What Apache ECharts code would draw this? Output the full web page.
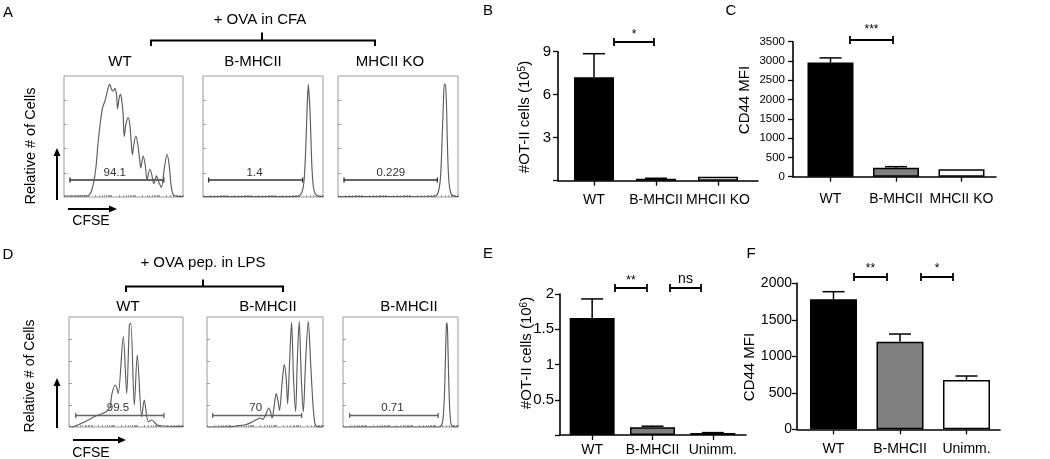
<!DOCTYPE html>
<html><head><meta charset="utf-8">
<script src="https://cdn.jsdelivr.net/npm/echarts@6/dist/echarts.min.js"></script>
<style>html,body{margin:0;padding:0;background:#fff}#c{width:1050px;height:459px}</style>
</head><body><div id="c"></div>
<script>
// ================= DATA =================
// Flow histograms (x: CFSE position 0-100 across plot, y: relative count 0-100)
const histA_WT = [[0,0.8],[19,0.8],[21.8,2.2],[24.6,10.5],[26.8,24.2],[28.8,46.3],[30.7,62.8],[32.4,73.8],[34.4,79.3],[35.8,84.8],[37.2,90.4],[38.5,93.1],[39.9,89],[41.3,87.6],[42.7,89.8],[44.1,84.8],[45,73],[46.4,82.1],[47.5,84.8],[48.6,79.3],[49.7,68.3],[50.6,50],[52,60],[53.9,65.6],[55.3,60],[56.4,46.3],[57.5,35],[58.7,43.5],[60.3,50.4],[62,43.5],[63.7,29.8],[64.5,24],[66.5,33.9],[68.2,27],[69.8,14],[72.1,22.9],[73.7,18.7],[75.4,11],[77.7,17.4],[79.3,13.2],[81.8,8],[84.4,24.2],[86.6,35.3],[88.3,27],[89.9,10.5],[91.6,2.2],[94.4,0.6],[100,0.3]];
const histA_BMHCII = [[0,0.3],[77.8,0.3],[80.6,1.1],[82.8,5],[84.2,13.2],[85.3,32.5],[86.1,54.5],[86.9,76.6],[87.8,93.1],[88.3,93.1],[89.2,71.1],[90,46.3],[90.8,24.2],[91.9,9.1],[93.6,2.2],[96.4,0.6],[100,0.3]];
const histA_KO = [[0,0.3],[80,0.6],[82.8,2.2],[84.4,7.7],[85.6,18.7],[86.7,46.3],[87.8,76.6],[88.6,93.1],[89.4,93.1],[90.3,79.3],[91.1,46.3],[91.9,21.5],[93,7.7],[94.4,2.2],[97.2,0.6],[100,0.3]];
const histD_WT = [[0,0],[1.5,0],[10.2,3],[19,7.6],[24.9,10.6],[32.2,13.6],[36,18.2],[37.4,28.8],[40.4,38.2],[41.8,36],[43.2,30.6],[47.6,82.1],[50.6,30.6],[53,93],[54.2,94.3],[57.3,20],[59.9,65.5],[63.8,9.4],[66,24.5],[69.6,4.8],[72.5,6.4],[77.2,1.8],[83.3,0.9],[100,0.5]];
const histD_BMHCII = [[0,0],[18.7,0],[24.5,0.9],[33.1,2.1],[38.9,4.5],[43.2,7],[46.1,8.2],[48.1,7],[50.4,10.6],[53.3,17.3],[54.8,13.6],[56.2,8.2],[57.6,16.7],[59.7,30.3],[61.4,22.7],[62.5,15.2],[64.8,40.9],[66.6,56.7],[68.3,43.9],[69.5,21.2],[71.2,59.1],[72.9,95.5],[74.6,43.9],[76.4,14.2],[77.8,59.1],[79.5,96.1],[81.3,43.9],[83,13.6],[85,59.1],[87.3,96.1],[89.3,59.1],[91.4,19.7],[93.1,3],[95.1,0.3],[100,0]];
const histD_Ctrl = [[0,0],[83.6,0],[85.6,1.5],[87,7.6],[88.2,28.8],[89,59.1],[89.9,92.4],[90.5,94.8],[91.1,80.3],[91.9,43.9],[92.8,16.7],[93.9,3],[95.7,0.3],[100,0]];

// Gates: [start, end, level, label position], labels
const gatesA = [[5,83.8,14,42.7],[4.7,83,14,43],[5,82.8,14,44]];
const gateLabelsA = ['94.1','1.4','0.229'];
const gatesD = [[5.9,83.3,10.5,43],[4.9,81.6,10.5,42],[5.8,82.7,10.5,43]];
const gateLabelsD = ['99.5','70','0.71'];

const histTitlesA = ['WT','B-MHCII','MHCII KO'];
const histTitlesD = ['WT','B-MHCII','B-MHCII'];

// Bar panels
const catsBC = ['WT','B-MHCII','MHCII KO'];
const catsEF = ['WT','B-MHCII','Unimm.'];
const otiiB = [7.21, 0.14, 0.28];
const otiiBErr = [1.65, 0.03, 0];
const cd44C = [2960, 232, 192];
const cd44CErr = [120, 28, 0];
const otiiE = [1.66, 0.11, 0.03];
const otiiEErr = [0.27, 0.015, 0.004];
const cd44F = [1780, 1200, 675];
const cd44FErr = [105, 105, 55];
const ticksB = [0, 3, 6, 9];
const ticksC = [0, 500, 1000, 1500, 2000, 2500, 3000, 3500];
const ticksE = [0, 0.5, 1, 1.5, 2];
const ticksF = [0, 500, 1000, 1500, 2000];

// ================= CHART =================
const FONT = '"Liberation Sans", Arial, Helvetica, sans-serif';
const chart = echarts.init(document.getElementById('c'));
const barFills = ['#000000', '#808080', '#ffffff'];

// log-style tick decoration for histogram x-axes
const logTicks = [];
for (let d = 0; d < 5; d++) for (let k = 1; k < 10; k++) logTicks.push((d + Math.log10(k)) * 20);
logTicks.push(100);

const histGrids = [
  {left:64, top:76, width:119, height:121},
  {left:203, top:76, width:120, height:121},
  {left:338, top:76, width:120, height:121},
  {left:69, top:317, width:114, height:110},
  {left:207, top:317, width:116, height:110},
  {left:343, top:317, width:115, height:110}
];
const barGrids = [
  {left:558, top:51.7, width:200, height:129},
  {left:793, top:41.7, width:203, height:135},
  {left:560, top:294, width:186, height:141},
  {left:797, top:283.3, width:203, height:146}
];

const grid = [], xAxis = [], yAxis = [], series = [];
histGrids.forEach((g, i) => {
  grid.push(Object.assign({show:true, borderColor:'#9a9a9a', borderWidth:1, backgroundColor:'transparent', containLabel:false}, g));
  xAxis.push({gridIndex:i, type:'value', min:0, max:100, axisLine:{show:false}, axisLabel:{show:false}, splitLine:{show:false},
    axisTick:{show:true, inside:true, length:2, customValues:logTicks, lineStyle:{color:'#888', width:0.8}}});
  yAxis.push({gridIndex:i, type:'value', min:0, max:100, axisLine:{show:false}, axisLabel:{show:false}, splitLine:{show:false},
    axisTick:{show:true, inside:true, length:3, customValues:[20,40,60,80], lineStyle:{color:'#888', width:0.8}}});
});
const histData = [histA_WT, histA_BMHCII, histA_KO, histD_WT, histD_BMHCII, histD_Ctrl];
histData.forEach((d, i) => {
  series.push({type:'line', xAxisIndex:i, yAxisIndex:i, data:d, smooth:0.3, showSymbol:false, silent:true,
    lineStyle:{color:'#5c5c5c', width:1.15}});
});
function gateSeries(idx, gate, label, color) {
  return {type:'custom', xAxisIndex:idx, yAxisIndex:idx, silent:true, clip:false, data:[gate],
    renderItem:(params, api) => {
      const a = api.coord([api.value(0), api.value(2)]);
      const b = api.coord([api.value(1), api.value(2)]);
      const l = api.coord([api.value(3), api.value(2)]);
      const ls = {stroke:color, lineWidth:1.4};
      return {type:'group', children:[
        {type:'line', shape:{x1:a[0], y1:a[1], x2:b[0], y2:b[1]}, style:ls},
        {type:'line', shape:{x1:a[0], y1:a[1]-2.5, x2:a[0], y2:a[1]+2.5}, style:ls},
        {type:'line', shape:{x1:b[0], y1:b[1]-2.5, x2:b[0], y2:b[1]+2.5}, style:ls},
        {type:'text', style:{text:label, x:l[0], y:l[1]-1.5, font:'11.5px ' + FONT, fill:'#333',
          align:'center', verticalAlign:'bottom', textAlign:'center', textVerticalAlign:'bottom'}}
      ]};
    }};
}
gatesA.forEach((g, i) => series.push(gateSeries(i, g, gateLabelsA[i], '#333')));
gatesD.forEach((g, i) => series.push(gateSeries(i + 3, g, gateLabelsD[i], '#666')));

// bar panels
const barPanels = [
  {cats:catsBC, vals:otiiB, errs:otiiBErr, ticks:ticksB, min:-0.5806, max:2.645, bw:40, lblSize:14, lblMargin:12, yLblSize:15, yMargin:7, hideZero:true},
  {cats:catsBC, vals:cd44C, errs:cd44CErr, ticks:ticksC, min:-0.5725, max:2.527, bw:46, lblSize:14, lblMargin:15, yLblSize:11.5, yMargin:8, hideZero:false},
  {cats:catsEF, vals:otiiE, errs:otiiEErr, ticks:ticksE, min:-0.533, max:2.55, bw:45, lblSize:14, lblMargin:8, yLblSize:15, yMargin:6, hideZero:true},
  {cats:catsEF, vals:cd44F, errs:cd44FErr, ticks:ticksF, min:-0.549, max:2.504, bw:47, lblSize:14, lblMargin:13, yLblSize:14, yMargin:5, hideZero:false}
];
barPanels.forEach((p, j) => {
  const gi = histGrids.length + j;
  grid.push(Object.assign({show:false, containLabel:false}, barGrids[j]));
  const axisLine = {show:true, onZero:false, lineStyle:{color:'#000', width:1.6}};
  xAxis.push({gridIndex:gi, type:'value', min:p.min, max:p.max, axisLine,
    splitLine:{show:false},
    axisTick:{show:true, length:5, customValues:[0,1,2], lineStyle:{color:'#000', width:1.3}},
    axisLabel:{show:true, customValues:[0,1,2], formatter:(v) => p.cats[Math.round(v)],
      fontFamily:FONT, fontSize:p.lblSize, color:'#000', margin:p.lblMargin}});
  yAxis.push({gridIndex:gi, type:'value', min:p.ticks[0], max:p.ticks[p.ticks.length-1],
    interval:p.ticks[1]-p.ticks[0], axisLine,
    splitLine:{show:false},
    axisTick:{show:true, length:5, lineStyle:{color:'#000', width:1.3}},
    axisLabel:{fontFamily:FONT, fontSize:p.yLblSize, color:'#000', margin:p.yMargin,
      formatter:(v) => (p.hideZero && v === 0) ? '' : String(v)}});
  series.push({type:'bar', xAxisIndex:gi, yAxisIndex:gi, barWidth:p.bw, silent:true,
    data:p.vals.map((v, i) => ({value:[i, v], itemStyle:{color:barFills[i]}})),
    itemStyle:{borderColor:'#000', borderWidth:1.5}});
  series.push({type:'custom', xAxisIndex:gi, yAxisIndex:gi, silent:true, clip:false, z:3,
    data:p.vals.map((v, i) => [i, v, p.errs[i]]),
    renderItem:(params, api) => {
      const e = api.value(2);
      if (!e) return null;
      const a = api.coord([api.value(0), api.value(1)]);
      const b = api.coord([api.value(0), api.value(1) + e]);
      const st = {stroke:'#000', lineWidth:1.5};
      return {type:'group', children:[
        {type:'line', shape:{x1:a[0], y1:a[1], x2:b[0], y2:b[1]}, style:st},
        {type:'line', shape:{x1:b[0]-11, y1:b[1], x2:b[0]+11, y2:b[1]}, style:st}
      ]};
    }});
});

// ---- annotations (text, brackets, arrows) ----
const g = [];
function txt(t, x, y, size, opts) {
  g.push(Object.assign({type:'text', x, y, style:Object.assign({text:t, font:size + 'px ' + FONT, fill:'#000',
    align:'center', verticalAlign:'middle', textAlign:'center', textVerticalAlign:'middle'}, (opts && opts.style) || {})},
    (opts && opts.el) || {}));
}
function poly(pts, w) { g.push({type:'polyline', shape:{points:pts}, style:{stroke:'#000', lineWidth:w || 2, fill:null}}); }
function sig(x1, x2, y, label, ly, size) {
  poly([[x1, y-4],[x1, y+4]], 1.8); poly([[x2, y-4],[x2, y+4]], 1.8); poly([[x1, y],[x2, y]], 2);
  txt(label, (x1+x2)/2, ly, size || 12);
}
function arrowUp(x, y0, y1) {
  poly([[x, y0],[x, y1+6]], 2);
  g.push({type:'polygon', shape:{points:[[x-3.5, y1+8],[x+3.5, y1+8],[x, y1]]}, style:{fill:'#000'}});
}
function arrowRight(y, x0, x1) {
  poly([[x0, y],[x1-6, y]], 2);
  g.push({type:'polygon', shape:{points:[[x1-8, y-3.5],[x1-8, y+3.5],[x1, y]]}, style:{fill:'#000'}});
}
// panel letters
txt('A', 8, 13, 15); txt('D', 8, 255, 15);
txt('B', 488, 11, 15); txt('C', 731, 11, 15);
txt('E', 488, 254, 15); txt('F', 751, 254, 15);
// Panel A header
txt('+ OVA in CFA', 260, 20, 15);
poly([[151, 46],[151, 40.5],[375, 40.5],[375, 46]], 2); poly([[262, 40.5],[262, 32.5]], 2);
txt(histTitlesA[0], 120, 62, 15); txt(histTitlesA[1], 253, 62, 15); txt(histTitlesA[2], 390, 62, 15);
// Panel D header
txt('+ OVA pep. in LPS', 203, 263, 15);
poly([[126, 292],[126, 286.5],[283, 286.5],[283, 292]], 2); poly([[203, 286.5],[203, 279.5]], 2);
txt(histTitlesD[0], 128, 307, 15); txt(histTitlesD[1], 268, 307, 15); txt(histTitlesD[2], 409, 307, 15);
// histogram axis labels / arrows
txt('Relative # of Cells', 31, 146, 14.5, {el:{rotation:Math.PI/2}});
txt('Relative # of Cells', 30, 376, 14, {el:{rotation:Math.PI/2}});
arrowUp(57, 200, 148); arrowRight(209, 68, 117); txt('CFSE', 91, 221, 14);
arrowUp(57, 428, 378); arrowRight(440, 73, 126); txt('CFSE', 91, 453, 14);
// bar panel y titles
const richT = {n:{font:'15px ' + FONT, fill:'#000'}, s:{font:'10px ' + FONT, fill:'#000', verticalAlign:'top', padding:[0,0,5,0]}};
g.push({type:'text', x:525, y:117, rotation:Math.PI/2, style:{text:'{n|#OT-II cells (10}{s|5}{n|)}', rich:richT, align:'center', verticalAlign:'middle', textAlign:'center', textVerticalAlign:'middle'}});
g.push({type:'text', x:527, y:353, rotation:Math.PI/2, style:{text:'{n|#OT-II cells (10}{s|6}{n|)}', rich:richT, align:'center', verticalAlign:'middle', textAlign:'center', textVerticalAlign:'middle'}});
txt('CD44 MFI', 745, 100, 15, {el:{rotation:Math.PI/2}});
txt('CD44 MFI', 750, 367, 15, {el:{rotation:Math.PI/2}});
// significance brackets
sig(614, 654, 42, '*', 35, 12);
sig(850, 893, 40, '***', 30, 12);
sig(615, 647, 288, '**', 281, 12);
sig(670, 701, 288, 'ns', 279, 14);
sig(854, 887, 277, '**', 269, 12);
sig(921, 953, 277, '*', 269, 12);

chart.setOption({animation:false, backgroundColor:'#fff', grid, xAxis, yAxis, series, graphic:{elements:g}});
</script></body></html>
